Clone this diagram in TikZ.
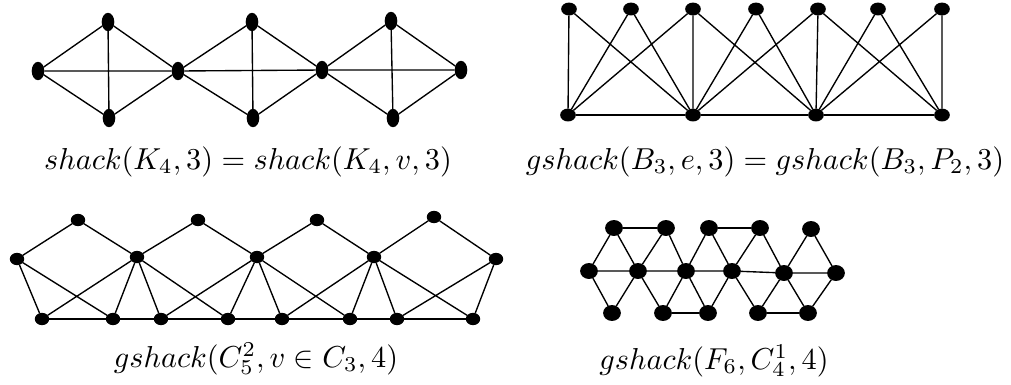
\documentclass[tikz,border=0pt]{standalone}
\usetikzlibrary{shapes.geometric}

\begin{document}
\begin{tikzpicture}[x=0.33pt,y=-0.33pt,line width=0.45pt,
  vtx/.style={ellipse,fill=black,draw=black,inner sep=0pt},
  vk/.style={vtx,minimum width=3.7pt,minimum height=5.6pt},
  vb/.style={vtx,minimum width=4.7pt,minimum height=3.8pt},
  vc/.style={vtx,minimum width=4.3pt,minimum height=3.6pt},
  vf/.style={vtx,minimum width=5.4pt,minimum height=4.8pt},
  lbl/.style={anchor=base}]

\useasboundingbox (0,0) rectangle (1011,384);

% shack(K4,3): three K4 glued at a vertex
\node[vk] (a1) at (38,71) {};
\node[vk] (t1) at (108,22) {};
\node[vk] (b1) at (109,118) {};
\node[vk] (c1) at (178,71) {};
\node[vk] (t2) at (252,22) {};
\node[vk] (b2) at (253,118) {};
\node[vk] (c2) at (322,70) {};
\node[vk] (t3) at (391,21) {};
\node[vk] (b3) at (393,118) {};
\node[vk] (a2) at (461,70) {};

\draw (a1)--(t1) (a1)--(b1) (a1)--(c1) (t1)--(b1) (t1)--(c1) (b1)--(c1);
\draw (c1)--(t2) (c1)--(b2) (c1)--(c2) (t2)--(b2) (t2)--(c2) (b2)--(c2);
\draw (c2)--(t3) (c2)--(b3) (c2)--(a2) (t3)--(b3) (t3)--(a2) (b3)--(a2);

\node[lbl] (l1) at (248,169) {$shack(K_4,3)=shack(K_4,v,3)$};

% gshack(B3,e,3): three books glued along an edge
\node[vb] (u1) at (569,9) {};
\node[vb] (u2) at (631,9) {};
\node[vb] (u3) at (693,9) {};
\node[vb] (u4) at (756,9) {};
\node[vb] (u5) at (818,9) {};
\node[vb] (u6) at (878,9) {};
\node[vb] (u7) at (942,9) {};
\node[vb] (w1) at (568,115) {};
\node[vb] (w2) at (693,115) {};
\node[vb] (w3) at (816,115) {};
\node[vb] (w4) at (942,115) {};

\draw (w1)--(w2)--(w3)--(w4);
\draw (u1)--(w1) (u1)--(w2) (u2)--(w1) (u2)--(w2) (u3)--(w1) (u3)--(w2);
\draw (u3)--(w3) (u4)--(w2) (u4)--(w3) (u5)--(w2) (u5)--(w3);
\draw (u5)--(w4) (u6)--(w3) (u6)--(w4) (u7)--(w3) (u7)--(w4);

\node[lbl] (l2) at (765,169) {$gshack(B_3,e,3)=gshack(B_3,P_2,3)$};

% gshack(C5^2, v in C3, 4)
\node[vc] (p1) at (78,220) {};
\node[vc] (p2) at (198,220) {};
\node[vc] (p3) at (317,220) {};
\node[vc] (p4) at (434,217) {};
\node[vc] (m0) at (17,259) {};
\node[vc] (m1) at (137,257) {};
\node[vc] (m2) at (257,257) {};
\node[vc] (m3) at (374,257) {};
\node[vc] (m4) at (496,259) {};
\node[vc] (q1) at (42,319) {};
\node[vc] (q2) at (113,319) {};
\node[vc] (q3) at (161,319) {};
\node[vc] (q4) at (228,319) {};
\node[vc] (q5) at (282,319) {};
\node[vc] (q6) at (350,319) {};
\node[vc] (q7) at (397,319) {};
\node[vc] (q8) at (473,319) {};

\draw (q1)--(q2)--(q3)--(q4)--(q5)--(q6)--(q7)--(q8);
\foreach \l/\t/\r/\x/\y in {m0/p1/m1/q1/q2, m1/p2/m2/q3/q4, m2/p3/m3/q5/q6, m3/p4/m4/q7/q8}
  \draw (\l)--(\t)--(\r) (\l)--(\x) (\l)--(\y) (\r)--(\x) (\r)--(\y);

\node[lbl] (l3) at (256,367) {$gshack(C_5^2,v\in C_3,4)$};

% gshack(F6,C4^1,4)
\node[vf] (r1) at (614,228) {};
\node[vf] (r2) at (666,228) {};
\node[vf] (r3) at (709,228) {};
\node[vf] (r4) at (760,228) {};
\node[vf] (r5) at (811,229) {};
\node[vf] (s1) at (589,271) {};
\node[vf] (s2) at (638,271) {};
\node[vf] (s3) at (686,271) {};
\node[vf] (s4) at (732,271) {};
\node[vf] (s5) at (784,273) {};
\node[vf] (s6) at (836,273) {};
\node[vf] (z1) at (612,313) {};
\node[vf] (z2) at (663,313) {};
\node[vf] (z3) at (708,313) {};
\node[vf] (z4) at (758,313) {};
\node[vf] (z5) at (808,313) {};

\draw (s1)--(s2)--(s3)--(s4)--(s5)--(s6);
\draw (r1)--(r2) (r3)--(r4) (z2)--(z3) (z4)--(z5);
\foreach \i/\j in {1/2,2/3,3/4,4/5,5/6}
  \draw (r\i)--(s\i) (r\i)--(s\j) (z\i)--(s\i) (z\i)--(s\j);

\node[lbl] (l4) at (714,369) {$gshack(F_6,C_4^1,4)$};

\end{tikzpicture}
\end{document}
